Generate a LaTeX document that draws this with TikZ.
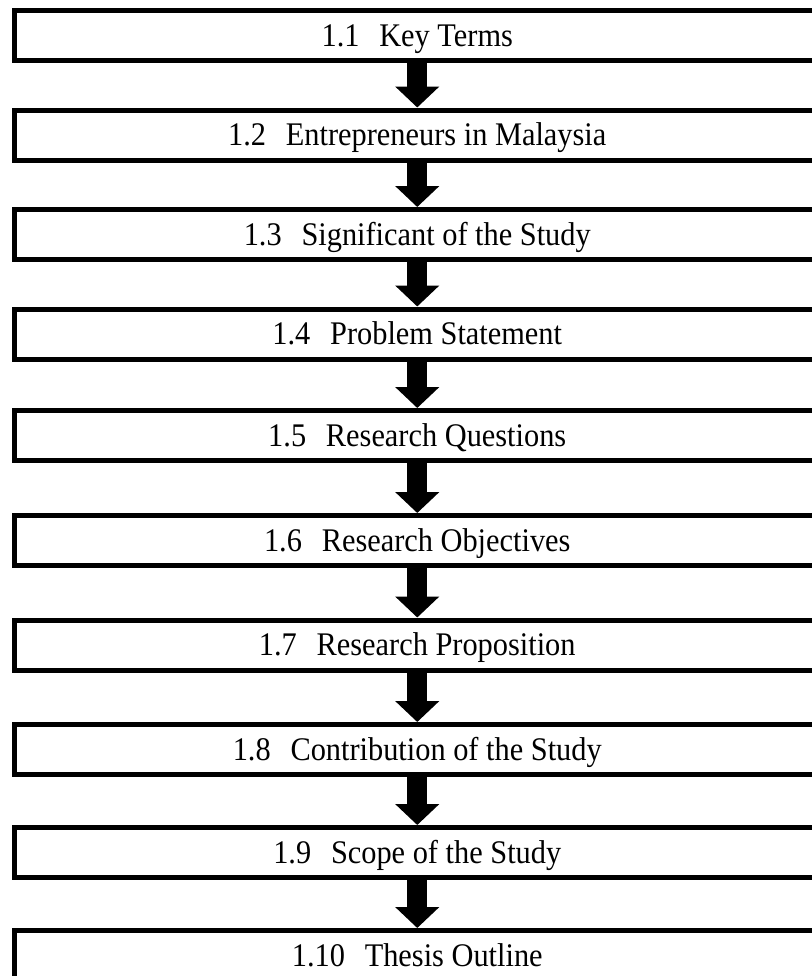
\documentclass[tikz,border=0pt]{standalone}
\usepackage{fontspec}
\setmainfont[FakeStretch=0.92]{Liberation Serif}
\usetikzlibrary{arrows.meta}
\begin{document}
\begin{tikzpicture}[x=0.5pt, y=-0.5pt,
    box/.style={draw, line width=2.5pt, minimum width=402.75pt, minimum height=25pt,
        inner sep=0pt, text height=10.5pt, text depth=0pt,
        font=\fontsize{16.5}{19}\selectfont},
    link/.style={line width=10pt, -{Triangle[width=21.5pt, length=10.5pt]}}]
    % Page frame
    \useasboundingbox (0,0) rectangle (811,976);

    % Section boxes
    \node[box] (keyterms) at (417.25, 35.5) {1.1\hspace{0.6em}Key Terms};
    \node[box] (malaysia) at (417.25, 135) {1.2\hspace{0.6em}Entrepreneurs in Malaysia};
    \node[box] (significant) at (417.25, 234.5) {1.3\hspace{0.6em}Significant of the Study};
    \node[box] (problem) at (417.25, 334) {1.4\hspace{0.6em}Problem Statement};
    \node[box] (questions) at (417.25, 435.5) {1.5\hspace{0.6em}Research Questions};
    \node[box] (objectives) at (417.25, 540.5) {1.6\hspace{0.6em}Research Objectives};
    \node[box] (proposition) at (417.25, 645) {1.7\hspace{0.6em}Research Proposition};
    \node[box] (contribution) at (417.25, 749.5) {1.8\hspace{0.6em}Contribution of the Study};
    \node[box] (scope) at (417.25, 852.5) {1.9\hspace{0.6em}Scope of the Study};
    \node[box] (outline) at (417.25, 955.5) {1.10\hspace{0.6em}Thesis Outline};

    % Block arrows
    \draw[link] (keyterms) -- (malaysia);
    \draw[link] (malaysia) -- (significant);
    \draw[link] (significant) -- (problem);
    \draw[link] (problem) -- (questions);
    \draw[link] (questions) -- (objectives);
    \draw[link] (objectives) -- (proposition);
    \draw[link] (proposition) -- (contribution);
    \draw[link] (contribution) -- (scope);
    \draw[link] (scope) -- (outline);
\end{tikzpicture}
\end{document}
